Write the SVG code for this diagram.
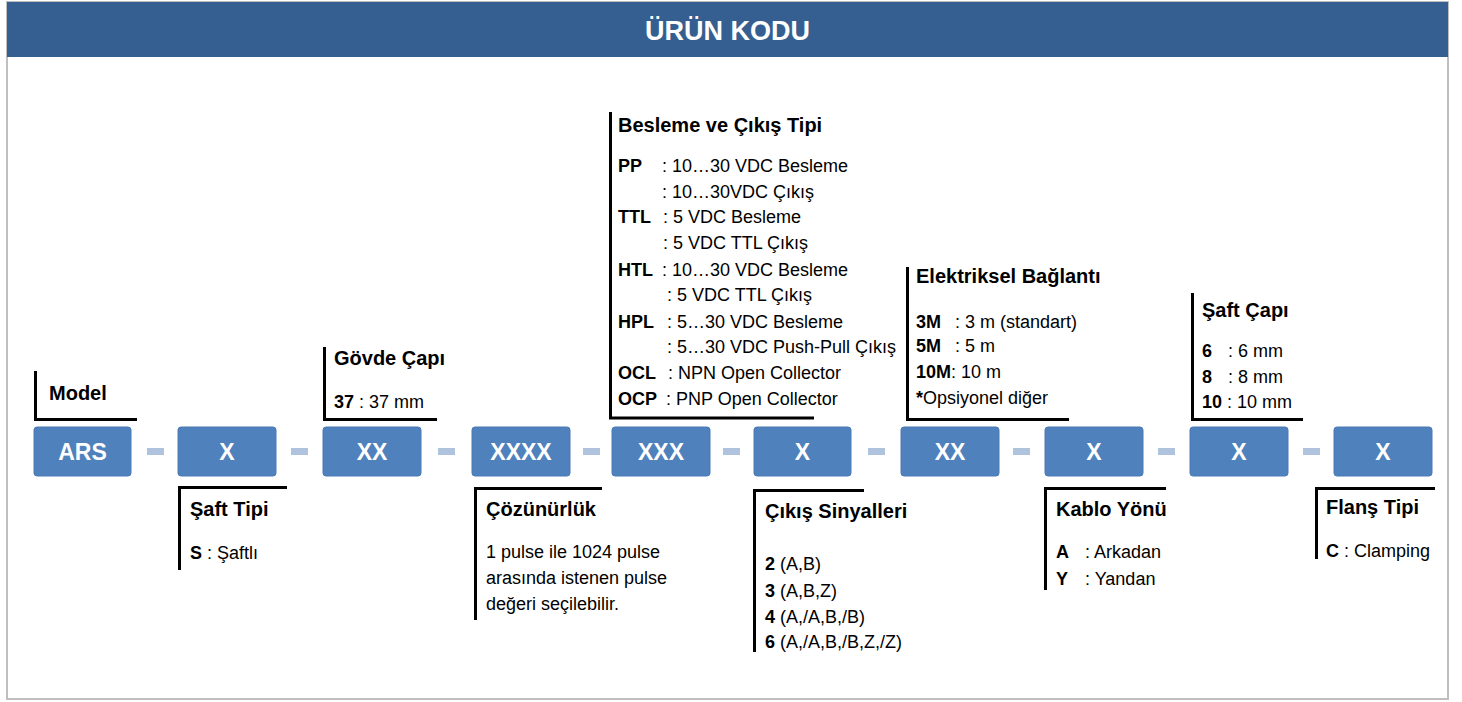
<svg xmlns="http://www.w3.org/2000/svg" width="1462" height="702" viewBox="0 0 1462 702">
<style>
text{font-family:"Liberation Sans",Arial,sans-serif;fill:#000}
.frame{fill:#fff;stroke:#BFBFBF;stroke-width:2}
.hdr{fill:#365F91}
.hdrt{font-size:27px;font-weight:bold;fill:#fff;text-anchor:middle}
.box{fill:#4F81BD;stroke:#4A7AB5;stroke-width:1}
.bt{font-size:23px;font-weight:bold;fill:#fff;text-anchor:middle}
.dash{fill:#AFC3DE}
.br{fill:none;stroke:#000;stroke-width:3}
.t{font-size:20px;font-weight:bold}
.b{font-size:18px}
.k{font-weight:bold}
</style>
<rect class="frame" x="7" y="2" width="1441" height="697"/>
<rect class="hdr" x="7" y="2" width="1441" height="55"/>
<text class="hdrt" x="727.5" y="40">ÜRÜN KODU</text>

<g id="connectors">
<rect class="dash" x="147" y="448" width="17" height="7"/>
<rect class="dash" x="291" y="448" width="17" height="7"/>
<rect class="dash" x="438" y="448" width="17" height="7"/>
<rect class="dash" x="583" y="448" width="17" height="7"/>
<rect class="dash" x="723" y="448" width="17" height="7"/>
<rect class="dash" x="868" y="448" width="17" height="7"/>
<rect class="dash" x="1013" y="448" width="17" height="7"/>
<rect class="dash" x="1158" y="448" width="17" height="7"/>
<rect class="dash" x="1303" y="448" width="17" height="7"/>
</g>

<g id="box-ars"><rect class="box" x="34" y="427" width="97" height="49" rx="3"/><text class="bt" x="82.5" y="460">ARS</text></g>
<g id="box-saft-tipi"><rect class="box" x="178" y="427" width="98" height="49" rx="3"/><text class="bt" x="227" y="460">X</text></g>
<g id="box-govde"><rect class="box" x="323" y="427" width="98" height="49" rx="3"/><text class="bt" x="372" y="460">XX</text></g>
<g id="box-cozunurluk"><rect class="box" x="472" y="427" width="98" height="49" rx="3"/><text class="bt" x="521" y="460">XXXX</text></g>
<g id="box-besleme"><rect class="box" x="612" y="427" width="98" height="49" rx="3"/><text class="bt" x="661" y="460">XXX</text></g>
<g id="box-cikis"><rect class="box" x="754" y="427" width="97" height="49" rx="3"/><text class="bt" x="802.5" y="460">X</text></g>
<g id="box-elektrik"><rect class="box" x="901" y="427" width="98" height="49" rx="3"/><text class="bt" x="950" y="460">XX</text></g>
<g id="box-kablo"><rect class="box" x="1045" y="427" width="98" height="49" rx="3"/><text class="bt" x="1094" y="460">X</text></g>
<g id="box-saft-capi"><rect class="box" x="1190" y="427" width="98" height="49" rx="3"/><text class="bt" x="1239" y="460">X</text></g>
<g id="box-flans"><rect class="box" x="1334" y="427" width="98" height="49" rx="3"/><text class="bt" x="1383" y="460">X</text></g>

<g id="label-model">
<path class="br" d="M35.5 371 V419.5 H137"/>
<text class="t" x="49" y="400">Model</text>
</g>

<g id="label-govde">
<path class="br" d="M324.5 347 V419.5 H437"/>
<text class="t" x="334" y="365">Gövde Çapı</text>
<text class="b" x="334" y="408"><tspan class="k">37</tspan> : 37 mm</text>
</g>

<g id="label-besleme">
<path class="br" d="M610.5 112 V418 H814"/>
<text class="t" x="618" y="132">Besleme ve Çıkış Tipi</text>
<text class="b k" x="618" y="172">PP</text><text class="b" x="662" y="172">: 10…30 VDC Besleme</text>
<text class="b" x="662" y="198">: 10…30VDC Çıkış</text>
<text class="b k" x="618" y="223">TTL</text><text class="b" x="663" y="223">: 5 VDC Besleme</text>
<text class="b" x="663" y="249">: 5 VDC TTL Çıkış</text>
<text class="b k" x="618" y="276">HTL</text><text class="b" x="662" y="276">: 10…30 VDC Besleme</text>
<text class="b" x="667" y="301">: 5 VDC TTL Çıkış</text>
<text class="b k" x="618" y="328">HPL</text><text class="b" x="667" y="328">: 5…30 VDC Besleme</text>
<text class="b" x="667" y="353">: 5…30 VDC Push-Pull Çıkış</text>
<text class="b k" x="618" y="379">OCL</text><text class="b" x="668" y="379">: NPN Open Collector</text>
<text class="b k" x="618" y="405">OCP</text><text class="b" x="666" y="405">: PNP Open Collector</text>
</g>

<g id="label-elektrik">
<path class="br" d="M907.5 267 V419.5 H1069"/>
<text class="t" x="916" y="283">Elektriksel Bağlantı</text>
<text class="b k" x="916" y="328">3M</text><text class="b" x="955" y="328">: 3 m (standart)</text>
<text class="b k" x="916" y="352">5M</text><text class="b" x="955" y="352">: 5 m</text>
<text class="b" x="916" y="378"><tspan class="k">10M</tspan>: 10 m</text>
<text class="b" x="916" y="404"><tspan class="k">*</tspan>Opsiyonel diğer</text>
</g>

<g id="label-saft-capi">
<path class="br" d="M1192.5 293 V419.5 H1303"/>
<text class="t" x="1202" y="317">Şaft Çapı</text>
<text class="b k" x="1202" y="357">6</text><text class="b" x="1228" y="357">: 6 mm</text>
<text class="b k" x="1202" y="383">8</text><text class="b" x="1228" y="383">: 8 mm</text>
<text class="b" x="1202" y="408"><tspan class="k">10</tspan> : 10 mm</text>
</g>

<g id="label-saft-tipi">
<path class="br" d="M179.5 570 V487.5 H287"/>
<text class="t" x="190" y="516">Şaft Tipi</text>
<text class="b" x="190" y="559"><tspan class="k">S</tspan> : Şaftlı</text>
</g>

<g id="label-cozunurluk">
<path class="br" d="M475.5 620 V488.5 H602"/>
<text class="t" x="486" y="516">Çözünürlük</text>
<text class="b" x="486" y="558">1 pulse ile 1024 pulse</text>
<text class="b" x="486" y="584">arasında istenen pulse</text>
<text class="b" x="486" y="610">değeri seçilebilir.</text>
</g>

<g id="label-cikis">
<path class="br" d="M754.5 652 V490.5 H864"/>
<text class="t" x="765" y="518">Çıkış Sinyalleri</text>
<text class="b" x="765" y="570"><tspan class="k">2</tspan> (A,B)</text>
<text class="b" x="765" y="597"><tspan class="k">3</tspan> (A,B,Z)</text>
<text class="b" x="765" y="623"><tspan class="k">4</tspan> (A,/A,B,/B)</text>
<text class="b" x="765" y="648"><tspan class="k">6</tspan> (A,/A,B,/B,Z,/Z)</text>
</g>

<g id="label-kablo">
<path class="br" d="M1045.5 590 V488.5 H1166"/>
<text class="t" x="1056" y="516">Kablo Yönü</text>
<text class="b k" x="1056" y="558">A</text><text class="b" x="1085" y="558">: Arkadan</text>
<text class="b k" x="1056" y="585">Y</text><text class="b" x="1085" y="585">: Yandan</text>
</g>

<g id="label-flans">
<path class="br" d="M1316.5 559 V488.5 H1435"/>
<text class="t" x="1326" y="514">Flanş Tipi</text>
<text class="b" x="1326" y="557"><tspan class="k">C</tspan> : Clamping</text>
</g>
</svg>
